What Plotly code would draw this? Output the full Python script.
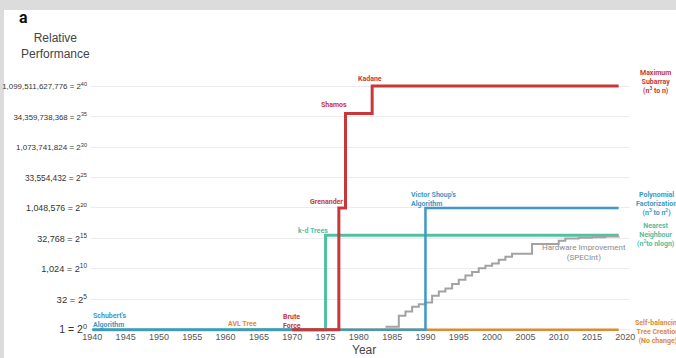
import numpy as np
import plotly.graph_objects as go

# ---- data (y values given as powers of two) ----
years_tick = list(range(1940, 2021, 5))
y_exp_ticks = [0, 5, 10, 15, 20, 25, 30, 35, 40]
y_tick_text = [
    "1 = 2<sup>0</sup>",
    "32 = 2<sup>5</sup>",
    "1,024 = 2<sup>10</sup>",
    "32,768 = 2<sup>15</sup>",
    "1,048,576 = 2<sup>20</sup>",
    "33,554,432 = 2<sup>25</sup>",
    "1,073,741,824 = 2<sup>30</sup>",
    "34,359,738,368 = 2<sup>35</sup>",
    "1,099,511,627,776 = 2<sup>40</sup>",
]
y_tick_sizes = [10.5, 9.5, 9.2, 9, 8.8, 8.3, 8, 7.8, 7.9]

maxsub_years = [1970, 1977, 1978, 1982, 2019]
maxsub_exp = [0, 20, 35.5, 40, 40]

polyfact_years = [1940, 1990, 2019]
polyfact_exp = [0, 20, 20]

nearest_years = [1940, 1975, 2019]
nearest_exp = [0, 15.5, 15.5]

selfbal_years = [1962, 2019]
selfbal_exp = [0, 0]

hw_years = [1984, 1986, 1987, 1988, 1989, 1990, 1991, 1992, 1993, 1994, 1995,
            1996, 1997, 1998, 1999, 2000, 2001, 2002, 2003, 2006, 2010, 2011,
            2013, 2015, 2017, 2019]
hw_exp = [0.5, 2.3, 3.0, 3.8, 4.2, 4.5, 5.6, 6.3, 6.8, 7.5, 8.2,
          8.9, 9.5, 10.1, 10.5, 10.9, 11.5, 12.0, 12.5, 14.1, 14.6, 15.0,
          15.1, 15.2, 15.3, 15.35]

RED = "#c8373a"
BLUE = "#3f98c6"
TEAL = "#52c0a2"
ORANGE = "#dd8a30"
GRAY = "#a2a2a2"

W, H = 676, 358
L, R, T, B = 90, 46, 80, 16
PW, PH = W - L - R, H - T - B


def px(x):
    return (x - L) / PW


def py(y):
    return (H - B - y) / PH


def p2(e):
    return 2.0 ** np.asarray(e, dtype=float)


fig = go.Figure()


def add_line(xs, es, color, width):
    fig.add_trace(go.Scatter(x=xs, y=p2(es), mode="lines",
                             line=dict(color=color, width=width, shape="hv"),
                             hoverinfo="skip", showlegend=False))


add_line(selfbal_years, selfbal_exp, ORANGE, 2.5)
add_line(nearest_years, nearest_exp, TEAL, 3)
add_line(hw_years, hw_exp, GRAY, 2)
add_line(polyfact_years, polyfact_exp, BLUE, 2.5)
add_line(maxsub_years, maxsub_exp, RED, 3)

FONT = "Liberation Sans"
BOLD = "Roboto"


def label(text, x, y, color, size=7, bold=True, align="center", xanchor="center"):
    if bold:
        text = "<b>" + text + "</b>"
    fig.add_annotation(text=text, x=px(x), y=py(y), xref="paper", yref="paper",
                       showarrow=False, xanchor=xanchor, yanchor="middle", align=align,
                       font=dict(family=BOLD, size=size, color=color))


# labels along the lines
label("Schubert's<br>Algorithm", 91, 320, BLUE, xanchor="left", align="left")
label("AVL Tree", 242, 324, ORANGE)
label("Brute<br>Force", 281, 321, RED, xanchor="left", align="left")
label("k-d Trees", 313, 231, TEAL)
label("Grenander", 326, 202, RED)
label("Shamos", 334, 105, RED)
label("Kadane", 370, 79, RED)
label("Victor Shoup's<br>Algorithm", 409, 199, BLUE, xanchor="left", align="left")
label("Hardware Improvement<br>(SPECInt)", 584, 253, "#8a8a8a", size=8, bold=False)

# series names at the right edge
label("Maximum<br>Subarray<br>(n<sup>3</sup> to n)", 655, 82, RED)
label("Polynomial<br>Factorization<br>(n<sup>3</sup> to n<sup>2</sup>)", 656, 204, BLUE)
label("Nearest<br>Neighbour<br>(n<sup>2</sup>to nlogn)", 656, 235, TEAL)
label("Self-balancing<br>Tree Creation<br>(No change)", 658, 332, ORANGE)

# titles
fig.add_annotation(text="<b>a</b>", x=px(17), y=py(17), xref="paper", yref="paper",
                   showarrow=False, xanchor="left", yanchor="middle",
                   font=dict(family="Roboto", size=16, color="#111"))
fig.add_annotation(text="Relative<br>Performance", x=px(55), y=py(46), xref="paper",
                   yref="paper", showarrow=False, xanchor="center", yanchor="middle",
                   font=dict(family=FONT, size=12, color="#444"))
fig.add_annotation(text="Year", x=px(364), y=py(350), xref="paper", yref="paper",
                   showarrow=False, xanchor="center", yanchor="middle",
                   font=dict(family=FONT, size=12, color="#444"))

# light backdrop strips at the top and left edge
fig.add_shape(type="rect", xref="paper", yref="paper", x0=px(-10), x1=px(700),
              y0=py(10), y1=py(-10), fillcolor="#dcdcdc", line_width=0, layer="below")
fig.add_shape(type="rect", xref="paper", yref="paper", x0=px(-10), x1=px(4),
              y0=py(370), y1=py(-10), fillcolor="#dcdcdc", line_width=0, layer="below")

ticktext = ['<span style="font-size:%spx">%s</span>' % (s, t)
            for s, t in zip(y_tick_sizes, y_tick_text)]

fig.update_layout(
    width=W, height=H,
    margin=dict(l=L, r=R, t=T, b=B),
    paper_bgcolor="white", plot_bgcolor="white",
    font=dict(family=FONT, color="#444"),
    xaxis=dict(range=[1939.65, 2020.7], tickvals=years_tick, ticks="",
               showgrid=False, zeroline=False, showline=False, automargin=False,
               tickfont=dict(size=9, color="#555"),
               anchor="free", position=py(330)),
    yaxis=dict(type="log", range=[-2 * np.log10(2), 41 * np.log10(2)],
               tickvals=p2(y_exp_ticks), ticktext=ticktext, ticks="",
               ticklabelstandoff=2,
               showgrid=True, gridcolor="#ececec", gridwidth=1,
               zeroline=False, showline=False, automargin=False,
               tickfont=dict(family=FONT, size=9, color="#333")),
)

fig.write_html("out.html")
